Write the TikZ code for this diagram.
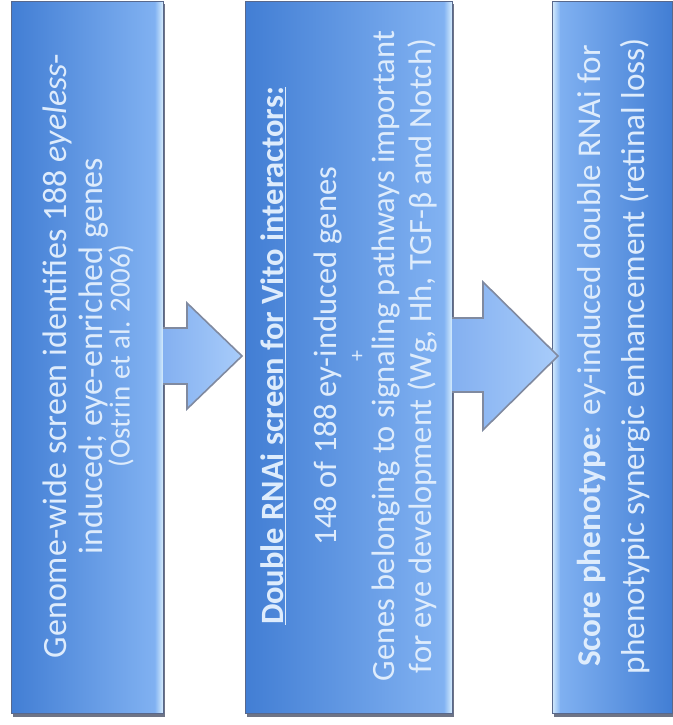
\documentclass[tikz,border=0pt]{standalone}
\usepackage{fontspec}
\setmainfont{Carlito}
\usetikzlibrary{calc}
\definecolor{boxdark}{RGB}{66,126,212}
\definecolor{boxlight}{RGB}{132,180,243}
\definecolor{stripcol}{RGB}{214,236,252}
\definecolor{bordercol}{RGB}{88,104,140}
\definecolor{arrowfill}{RGB}{132,176,240}
\definecolor{arrowlight}{RGB}{168,204,250}
\definecolor{arrowline}{RGB}{128,138,160}
\definecolor{txtcol}{RGB}{222,236,252}
\definecolor{shadowcol}{RGB}{110,116,134}
\begin{document}
\begin{tikzpicture}[x=1pt,y=1pt,
  boxA/.style={inner sep=0pt, outer sep=0pt, left color=boxdark, right color=boxlight},
  boxB/.style={inner sep=0pt, outer sep=0pt, left color=boxlight, right color=boxdark},
  boxline/.style={draw=bordercol, line width=1pt},
  txt/.style={rotate=90, text=txtcol, inner sep=0pt, font=\fontsize{32.5}{35}\selectfont},
  arrfill/.style={left color=arrowfill, right color=arrowlight},
  arrline/.style={draw=arrowline, line width=1.6pt, line join=miter}]
\useasboundingbox (0,0) rectangle (672,725);
\fill[white] (0,0) rectangle (672,725);
% shadows
\fill[shadowcol] (13,8) rectangle (165,721);
\fill[shadowcol] (247,8) rectangle (454,721);
\fill[shadowcol] (554,8) rectangle (674,721);
% boxes
\node[boxA, minimum width=152pt, minimum height=712pt] (b1) at (87,367) {};
\node[boxA, minimum width=207pt, minimum height=712pt] (b2) at (348.5,367) {};
\node[boxB, minimum width=120pt, minimum height=712pt] (b3) at (612,367) {};
% light strips
\shade[left color=boxlight, right color=stripcol] ($(b1.south east)+(-8,0)$) rectangle (b1.north east);
\shade[left color=boxlight, right color=stripcol] ($(b2.south east)+(-8,0)$) rectangle (b2.north east);
\shade[left color=stripcol, right color=boxlight] (b3.south west) rectangle ($(b3.north west)+(8,0)$);
\draw[boxline] (b1.south west) rectangle (b1.north east);
\draw[boxline] (b2.south west) rectangle (b2.north east);
\draw[boxline] (b3.south west) rectangle (b3.north east);
% texts
\node[txt, font=\fontsize{34}{36}\selectfont] (t1a) at (57,369) {Genome-wide screen identifies 188 \textit{eyeless}-};
\node[txt, font=\fontsize{34}{36}\selectfont] (t1b) at (94,369) {induced; eye-enriched genes};
\node[txt, font=\fontsize{29}{31}\selectfont] (t1c) at (121,369) {(Ostrin et al. 2006)};
\node[txt] (t2a) at (273,369) {\textbf{\underline{Double RNAi screen for Vito interactors:}}};
\node[txt] (t2b) at (328,369) {148 of 188 ey-induced genes};
\node[txt, font=\fontsize{22}{26}\selectfont] (t2c) at (358,369) {+};
\node[txt] (t2d) at (386,369) {Genes belonging to signaling pathways important};
\node[txt] (t2e) at (422,369) {for eye development (Wg, Hh, TGF-β and Notch)};
\node[txt, font=\fontsize{33.2}{35}\selectfont] (t3a) at (592,369) {\textbf{Score phenotype}: ey-induced double RNAi for};
\node[txt, font=\fontsize{33.2}{35}\selectfont] (t3b) at (635,369) {phenotypic synergic enhancement (retinal loss)};
% arrow 1 : b1 -> b2
\coordinate (tip1) at ($(b2.west)+(-3,2)$);
\coordinate (tip2) at ($(b3.west)+(6,2)$);
\shade[arrfill] ($(b1.east)+(0,-26)$) -- ($(b1.east)+(24,-26)$) -- ($(b1.east)+(24,-51)$) -- (tip1)
  -- ($(b1.east)+(24,55)$) -- ($(b1.east)+(24,30)$) -- ($(b1.east)+(0,30)$) -- cycle;
\draw[arrline] ($(b1.east)+(0,-26)$) -- ($(b1.east)+(24,-26)$) -- ($(b1.east)+(24,-51)$) -- (tip1)
  -- ($(b1.east)+(24,55)$) -- ($(b1.east)+(24,30)$) -- ($(b1.east)+(0,30)$);
% arrow 2 : b2 -> b3
\shade[arrfill] ($(b2.east)+(0,-34)$) -- ($(b2.east)+(31,-34)$) -- ($(b2.east)+(31,-72)$) -- (tip2)
  -- ($(b2.east)+(31,76)$) -- ($(b2.east)+(31,40)$) -- ($(b2.east)+(0,40)$) -- cycle;
\draw[arrline] ($(b2.east)+(0,-34)$) -- ($(b2.east)+(31,-34)$) -- ($(b2.east)+(31,-72)$) -- (tip2)
  -- ($(b2.east)+(31,76)$) -- ($(b2.east)+(31,40)$) -- ($(b2.east)+(0,40)$);
\end{tikzpicture}
\end{document}
